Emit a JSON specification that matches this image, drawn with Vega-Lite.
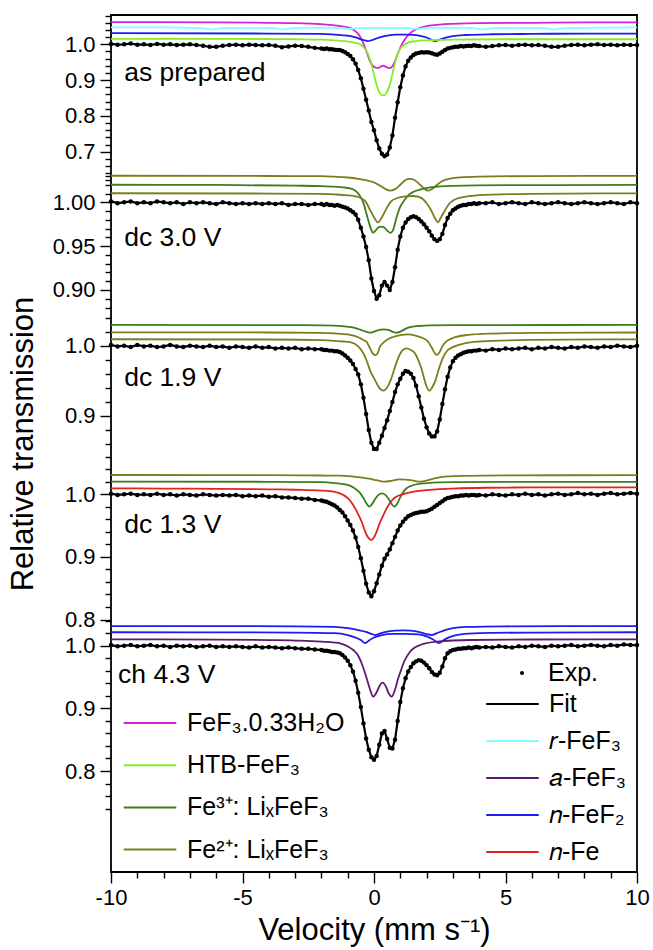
{
"$schema": "https://vega.github.io/schema/vega-lite/v6.json",
"autosize": {"type": "none"},
"width": 526, "height": 857,
"padding": {"left": 111, "top": 15, "right": 16, "bottom": 78},
"background": "white",
"config": {
 "font": "Liberation Sans",
 "view": {"stroke": "black", "strokeWidth": 1.8},
 "axis": {"grid": false, "domain": false, "labelFont": "Liberation Sans", "labelFontSize": 22, "labelColor": "black", "labelFlush": false, "labelOverlap": false, "tickColor": "black", "tickWidth": 1.4, "titleFont": "Liberation Sans", "titleFontSize": 31, "titleFontWeight": "normal", "titleColor": "black"},
 "legend": {"labelFont": "Liberation Sans", "labelFontSize": 25, "labelColor": "black", "labelLimit": 400}
},
"datasets": {
 "e1": [{"v":-10,"t":1.001},{"v":-9.75,"t":0.999},{"v":-9.5,"t":1},{"v":-9.25,"t":1.002},{"v":-9,"t":0.999},{"v":-8.75,"t":1},{"v":-8.5,"t":0.998},{"v":-8.25,"t":1.001},{"v":-8,"t":0.999},{"v":-7.75,"t":1},{"v":-7.5,"t":0.998},{"v":-7.25,"t":0.999},{"v":-7,"t":1},{"v":-6.75,"t":0.998},{"v":-6.5,"t":0.996},{"v":-6.25,"t":0.993},{"v":-6,"t":0.993},{"v":-5.75,"t":0.996},{"v":-5.5,"t":0.998},{"v":-5.25,"t":0.999},{"v":-5,"t":0.997},{"v":-4.75,"t":0.999},{"v":-4.5,"t":0.998},{"v":-4.25,"t":0.997},{"v":-4,"t":0.998},{"v":-3.75,"t":0.996},{"v":-3.5,"t":0.992},{"v":-3.25,"t":0.994},{"v":-3,"t":0.996},{"v":-2.75,"t":0.995},{"v":-2.5,"t":0.993},{"v":-2.25,"t":0.99},
  {"v":-2,"t":0.988},{"v":-1.9,"t":0.987},{"v":-1.8,"t":0.988},{"v":-1.7,"t":0.986},{"v":-1.6,"t":0.986},{"v":-1.5,"t":0.985},{"v":-1.4,"t":0.984},{"v":-1.3,"t":0.984},{"v":-1.2,"t":0.981},{"v":-1.1,"t":0.978},{"v":-1,"t":0.973},{"v":-0.9,"t":0.967},{"v":-0.8,"t":0.958},{"v":-0.7,"t":0.946},{"v":-0.6,"t":0.928},{"v":-0.5,"t":0.905},{"v":-0.4,"t":0.876},{"v":-0.3,"t":0.845},{"v":-0.2,"t":0.815},{"v":-0.1,"t":0.783},{"v":0,"t":0.76},{"v":0.1,"t":0.732},{"v":0.2,"t":0.709},{"v":0.3,"t":0.694},{"v":0.4,"t":0.687},{"v":0.5,"t":0.692},{"v":0.6,"t":0.712},{"v":0.7,"t":0.745},{"v":0.8,"t":0.795},{"v":0.9,"t":0.838},{"v":1,"t":0.88},{"v":1.1,"t":0.913},{"v":1.2,"t":0.938},{"v":1.3,"t":0.954},{"v":1.4,"t":0.963},{"v":1.5,"t":0.97},{"v":1.6,"t":0.974},{"v":1.7,"t":0.976},{"v":1.8,"t":0.978},{"v":1.9,"t":0.977},{"v":2,"t":0.978},{"v":2.1,"t":0.977},{"v":2.2,"t":0.975},{"v":2.3,"t":0.972},{"v":2.4,"t":0.971},{"v":2.5,"t":0.974},{"v":2.6,"t":0.979},{"v":2.7,"t":0.984},{"v":2.8,"t":0.988},{"v":2.9,"t":0.99},{"v":3,"t":0.992},{"v":3.1,"t":0.993},{"v":3.2,"t":0.993},{"v":3.3,"t":0.995},{"v":3.4,"t":0.994},{"v":3.5,"t":0.995},{"v":3.6,"t":0.996},{"v":3.7,"t":0.995},{"v":3.8,"t":0.997},{"v":3.9,"t":0.996},{"v":4,"t":0.995},
  {"v":4.25,"t":0.993},{"v":4.5,"t":0.995},{"v":4.75,"t":0.997},{"v":5,"t":0.998},{"v":5.25,"t":0.996},{"v":5.5,"t":0.998},{"v":5.75,"t":0.999},{"v":6,"t":0.997},{"v":6.25,"t":0.998},{"v":6.5,"t":0.996},{"v":6.75,"t":0.993},{"v":7,"t":0.993},{"v":7.25,"t":0.996},{"v":7.5,"t":0.998},{"v":7.75,"t":0.999},{"v":8,"t":0.997},{"v":8.25,"t":0.999},{"v":8.5,"t":1},{"v":8.75,"t":0.998},{"v":9,"t":0.999},{"v":9.25,"t":0.997},{"v":9.5,"t":0.999},{"v":9.75,"t":0.998},{"v":10,"t":0.998}],
 "m1": [{"v":-10,"t":1.062},{"v":-6,"t":1.061},{"v":-4,"t":1.06},{"v":-3,"t":1.059},{"v":-2,"t":1.056},{"v":-1.5,"t":1.053},{"v":-1.2,"t":1.05},{"v":-1,"t":1.047},{"v":-0.8,"t":1.041},{"v":-0.6,"t":1.029},{"v":-0.5,"t":1.018},{"v":-0.4,"t":1.002},{"v":-0.3,"t":0.983},{"v":-0.2,"t":0.962},{"v":-0.1,"t":0.945},{"v":0,"t":0.937},{"v":0.1,"t":0.934},{"v":0.2,"t":0.935},{"v":0.3,"t":0.939},{"v":0.36,"t":0.94},{"v":0.45,"t":0.937},{"v":0.55,"t":0.934},{"v":0.65,"t":0.935},{"v":0.75,"t":0.945},{"v":0.85,"t":0.963},{"v":0.95,"t":0.982},{"v":1.05,"t":0.998},{"v":1.15,"t":1.011},{"v":1.3,"t":1.026},{"v":1.5,"t":1.038},{"v":1.75,"t":1.046},{"v":2,"t":1.051},{"v":2.5,"t":1.055},{"v":3,"t":1.057},{"v":4,"t":1.059},{"v":6,"t":1.06},{"v":8,"t":1.061},{"v":10,"t":1.061}],
 "c1": [{"v":-10,"t":1.047},{"v":-8,"t":1.047},{"v":-7,"t":1.046},{"v":-6.5,"t":1.045},{"v":-6.12,"t":1.041},{"v":-5.8,"t":1.045},{"v":-5,"t":1.046},{"v":-4,"t":1.046},{"v":-3.8,"t":1.045},{"v":-3.46,"t":1.041},{"v":-3.1,"t":1.045},{"v":-2.5,"t":1.046},{"v":-1.5,"t":1.046},{"v":-1.2,"t":1.045},{"v":-0.95,"t":1.043},{"v":-0.7,"t":1.045},{"v":0,"t":1.046},{"v":1.3,"t":1.045},{"v":1.6,"t":1.043},{"v":1.9,"t":1.045},{"v":3,"t":1.046},{"v":3.8,"t":1.045},{"v":4.14,"t":1.041},{"v":4.5,"t":1.045},{"v":5.5,"t":1.046},{"v":6.5,"t":1.045},{"v":6.88,"t":1.041},{"v":7.2,"t":1.045},{"v":8,"t":1.046},{"v":10,"t":1.047}],
 "b1": [{"v":-10,"t":1.031},{"v":-4,"t":1.03},{"v":-2,"t":1.029},{"v":-1.5,"t":1.027},{"v":-1,"t":1.024},{"v":-0.7,"t":1.019},{"v":-0.5,"t":1.014},{"v":-0.35,"t":1.011},{"v":-0.23,"t":1.009},{"v":-0.1,"t":1.011},{"v":0.05,"t":1.015},{"v":0.25,"t":1.02},{"v":0.5,"t":1.024},{"v":0.8,"t":1.027},{"v":1.2,"t":1.027},{"v":1.5,"t":1.026},{"v":1.8,"t":1.023},{"v":2,"t":1.019},{"v":2.15,"t":1.014},{"v":2.32,"t":1.009},{"v":2.5,"t":1.013},{"v":2.7,"t":1.018},{"v":3,"t":1.023},{"v":3.5,"t":1.026},{"v":4.5,"t":1.028},{"v":6,"t":1.029},{"v":8,"t":1.03},{"v":10,"t":1.03}],
 "g1": [{"v":-10,"t":1.015},{"v":-5,"t":1.015},{"v":-3,"t":1.014},{"v":-2,"t":1.013},{"v":-1.5,"t":1.011},{"v":-1,"t":1.008},{"v":-0.7,"t":1.004},{"v":-0.5,"t":0.999},{"v":-0.35,"t":0.988},{"v":-0.2,"t":0.968},{"v":-0.1,"t":0.945},{"v":0,"t":0.915},{"v":0.1,"t":0.886},{"v":0.2,"t":0.866},{"v":0.3,"t":0.858},{"v":0.4,"t":0.858},{"v":0.5,"t":0.868},{"v":0.6,"t":0.886},{"v":0.7,"t":0.917},{"v":0.8,"t":0.948},{"v":0.9,"t":0.972},{"v":1,"t":0.988},{"v":1.15,"t":0.999},{"v":1.35,"t":1.006},{"v":1.6,"t":1.009},{"v":2,"t":1.011},{"v":3,"t":1.013},{"v":5,"t":1.014},{"v":10,"t":1.014}],
 "e2": [{"v":-10,"t":1.001},{"v":-9.75,"t":0.999},{"v":-9.5,"t":1},{"v":-9.25,"t":1.001},{"v":-9,"t":0.999},{"v":-8.75,"t":1},{"v":-8.5,"t":0.999},{"v":-8.25,"t":1.001},{"v":-8,"t":1},{"v":-7.75,"t":0.999},{"v":-7.5,"t":1},{"v":-7.25,"t":0.998},{"v":-7,"t":1},{"v":-6.75,"t":0.999},{"v":-6.5,"t":1},{"v":-6.25,"t":0.999},{"v":-6,"t":0.998},{"v":-5.75,"t":1},{"v":-5.5,"t":0.999},{"v":-5.25,"t":0.998},{"v":-5,"t":0.999},{"v":-4.75,"t":0.998},{"v":-4.5,"t":0.999},{"v":-4.25,"t":0.998},{"v":-4,"t":0.999},{"v":-3.75,"t":0.998},{"v":-3.5,"t":0.999},{"v":-3.25,"t":0.997},{"v":-3,"t":0.998},{"v":-2.75,"t":0.998},{"v":-2.5,"t":0.997},{"v":-2.25,"t":0.998},
  {"v":-2,"t":0.998},{"v":-1.9,"t":0.997},{"v":-1.8,"t":0.998},{"v":-1.7,"t":0.997},{"v":-1.6,"t":0.997},{"v":-1.5,"t":0.996},{"v":-1.4,"t":0.997},{"v":-1.3,"t":0.996},{"v":-1.2,"t":0.995},{"v":-1.1,"t":0.994},{"v":-1,"t":0.993},{"v":-0.9,"t":0.991},{"v":-0.8,"t":0.989},{"v":-0.7,"t":0.986},{"v":-0.6,"t":0.98},{"v":-0.5,"t":0.971},{"v":-0.4,"t":0.961},{"v":-0.3,"t":0.949},{"v":-0.2,"t":0.934},{"v":-0.1,"t":0.913},{"v":0,"t":0.899},{"v":0.1,"t":0.89},{"v":0.2,"t":0.894},{"v":0.3,"t":0.905},{"v":0.4,"t":0.909},{"v":0.5,"t":0.905},{"v":0.6,"t":0.9},{"v":0.7,"t":0.909},{"v":0.8,"t":0.926},{"v":0.9,"t":0.946},{"v":1,"t":0.961},{"v":1.1,"t":0.971},{"v":1.2,"t":0.977},{"v":1.3,"t":0.981},{"v":1.4,"t":0.983},{"v":1.5,"t":0.984},{"v":1.6,"t":0.983},{"v":1.7,"t":0.981},{"v":1.8,"t":0.978},{"v":1.9,"t":0.975},{"v":2,"t":0.971},{"v":2.1,"t":0.967},{"v":2.2,"t":0.962},{"v":2.3,"t":0.958},{"v":2.4,"t":0.956},{"v":2.5,"t":0.958},{"v":2.6,"t":0.964},{"v":2.7,"t":0.974},{"v":2.8,"t":0.982},{"v":2.9,"t":0.987},{"v":3,"t":0.991},{"v":3.1,"t":0.993},{"v":3.2,"t":0.995},{"v":3.3,"t":0.996},{"v":3.4,"t":0.997},{"v":3.5,"t":0.997},{"v":3.6,"t":0.998},{"v":3.7,"t":0.998},{"v":3.8,"t":0.999},{"v":3.9,"t":0.998},{"v":4,"t":0.999},
  {"v":4.25,"t":0.999},{"v":4.5,"t":1},{"v":4.75,"t":0.998},{"v":5,"t":0.999},{"v":5.25,"t":1},{"v":5.5,"t":0.999},{"v":5.75,"t":0.998},{"v":6,"t":1},{"v":6.25,"t":0.999},{"v":6.5,"t":0.998},{"v":6.75,"t":0.999},{"v":7,"t":1},{"v":7.25,"t":0.999},{"v":7.5,"t":0.998},{"v":7.75,"t":0.999},{"v":8,"t":1},{"v":8.25,"t":0.999},{"v":8.5,"t":0.998},{"v":8.75,"t":0.999},{"v":9,"t":1},{"v":9.25,"t":0.999},{"v":9.5,"t":0.998},{"v":9.75,"t":1},{"v":10,"t":0.999}],
 "o2a": [{"v":-10,"t":1.0303},{"v":-4,"t":1.03},{"v":-2,"t":1.0298},{"v":-1.5,"t":1.0292},{"v":-1,"t":1.0283},{"v":-0.6,"t":1.0268},{"v":-0.3,"t":1.0252},{"v":0,"t":1.0228},{"v":0.2,"t":1.0195},{"v":0.4,"t":1.0158},{"v":0.61,"t":1.0132},{"v":0.8,"t":1.015},{"v":1,"t":1.02},{"v":1.2,"t":1.0255},{"v":1.35,"t":1.0268},{"v":1.5,"t":1.026},{"v":1.7,"t":1.0215},{"v":1.9,"t":1.0158},{"v":2.05,"t":1.0132},{"v":2.2,"t":1.015},{"v":2.4,"t":1.02},{"v":2.6,"t":1.0242},{"v":2.9,"t":1.027},{"v":3.3,"t":1.0285},{"v":4,"t":1.0293},{"v":6,"t":1.0299},{"v":10,"t":1.0302}],
 "d2": [{"v":-10,"t":1.02},{"v":-6,"t":1.0198},{"v":-3,"t":1.019},{"v":-2,"t":1.0185},{"v":-1.5,"t":1.0178},{"v":-1,"t":1.0163},{"v":-0.75,"t":1.014},{"v":-0.55,"t":1.008},{"v":-0.4,"t":0.999},{"v":-0.25,"t":0.983},{"v":-0.12,"t":0.97},{"v":-0.04,"t":0.9655},{"v":0.05,"t":0.9675},{"v":0.15,"t":0.971},{"v":0.28,"t":0.9722},{"v":0.4,"t":0.971},{"v":0.52,"t":0.9672},{"v":0.63,"t":0.9653},{"v":0.72,"t":0.968},{"v":0.86,"t":0.983},{"v":1,"t":0.995},{"v":1.12,"t":1.001},{"v":1.3,"t":1.008},{"v":1.5,"t":1.012},{"v":1.8,"t":1.015},{"v":2.14,"t":1.017},{"v":3,"t":1.0187},{"v":5,"t":1.0195},{"v":10,"t":1.0198}],
 "o2b": [{"v":-10,"t":1.0103},{"v":-4,"t":1.01},{"v":-2,"t":1.0095},{"v":-1.5,"t":1.009},{"v":-1,"t":1.008},{"v":-0.7,"t":1.0068},{"v":-0.5,"t":1.005},{"v":-0.3,"t":1},{"v":-0.15,"t":0.9912},{"v":0,"t":0.983},{"v":0.15,"t":0.9772},{"v":0.3,"t":0.983},{"v":0.48,"t":0.9932},{"v":0.65,"t":1.001},{"v":0.86,"t":1.0046},{"v":1.2,"t":1.0068},{"v":1.5,"t":1.0072},{"v":1.8,"t":1.005},{"v":2,"t":0.9989},{"v":2.15,"t":0.992},{"v":2.3,"t":0.983},{"v":2.43,"t":0.9772},{"v":2.55,"t":0.983},{"v":2.7,"t":0.991},{"v":2.85,"t":0.998},{"v":3.04,"t":1.0026},{"v":3.4,"t":1.006},{"v":3.67,"t":1.0072},{"v":4.5,"t":1.0088},{"v":6,"t":1.0096},{"v":10,"t":1.0102}],
 "e3": [{"v":-10,"t":1.001},{"v":-9.75,"t":0.999},{"v":-9.5,"t":1},{"v":-9.25,"t":0.998},{"v":-9,"t":1.001},{"v":-8.75,"t":0.999},{"v":-8.5,"t":1},{"v":-8.25,"t":0.998},{"v":-8,"t":0.999},{"v":-7.75,"t":1.001},{"v":-7.5,"t":0.999},{"v":-7.25,"t":0.998},{"v":-7,"t":1},{"v":-6.75,"t":0.999},{"v":-6.5,"t":0.998},{"v":-6.25,"t":1},{"v":-6,"t":0.998},{"v":-5.75,"t":0.999},{"v":-5.5,"t":0.997},{"v":-5.25,"t":0.999},{"v":-5,"t":0.998},{"v":-4.75,"t":0.997},{"v":-4.5,"t":0.999},{"v":-4.25,"t":0.997},{"v":-4,"t":0.998},{"v":-3.75,"t":0.996},{"v":-3.5,"t":0.997},{"v":-3.25,"t":0.996},{"v":-3,"t":0.997},{"v":-2.75,"t":0.995},{"v":-2.5,"t":0.996},{"v":-2.25,"t":0.995},
  {"v":-2,"t":0.995},{"v":-1.9,"t":0.994},{"v":-1.8,"t":0.994},{"v":-1.7,"t":0.993},{"v":-1.6,"t":0.993},{"v":-1.5,"t":0.992},{"v":-1.4,"t":0.992},{"v":-1.3,"t":0.991},{"v":-1.2,"t":0.989},{"v":-1.1,"t":0.986},{"v":-1,"t":0.983},{"v":-0.9,"t":0.979},{"v":-0.8,"t":0.974},{"v":-0.7,"t":0.967},{"v":-0.6,"t":0.959},{"v":-0.5,"t":0.945},{"v":-0.4,"t":0.926},{"v":-0.3,"t":0.903},{"v":-0.2,"t":0.88},{"v":-0.1,"t":0.862},{"v":0,"t":0.853},{"v":0.1,"t":0.853},{"v":0.2,"t":0.862},{"v":0.3,"t":0.872},{"v":0.4,"t":0.883},{"v":0.5,"t":0.894},{"v":0.6,"t":0.907},{"v":0.7,"t":0.92},{"v":0.8,"t":0.934},{"v":0.9,"t":0.945},{"v":1,"t":0.953},{"v":1.1,"t":0.96},{"v":1.2,"t":0.964},{"v":1.3,"t":0.963},{"v":1.4,"t":0.96},{"v":1.5,"t":0.954},{"v":1.6,"t":0.943},{"v":1.7,"t":0.928},{"v":1.8,"t":0.912},{"v":1.9,"t":0.896},{"v":2,"t":0.884},{"v":2.1,"t":0.875},{"v":2.2,"t":0.871},{"v":2.3,"t":0.871},{"v":2.4,"t":0.878},{"v":2.5,"t":0.895},{"v":2.6,"t":0.917},{"v":2.7,"t":0.938},{"v":2.8,"t":0.956},{"v":2.9,"t":0.969},{"v":3,"t":0.978},{"v":3.1,"t":0.983},{"v":3.2,"t":0.986},{"v":3.3,"t":0.988},{"v":3.4,"t":0.99},{"v":3.5,"t":0.991},{"v":3.6,"t":0.992},{"v":3.7,"t":0.992},{"v":3.8,"t":0.993},{"v":3.9,"t":0.993},{"v":4,"t":0.994},
  {"v":4.25,"t":0.993},{"v":4.5,"t":0.995},{"v":4.75,"t":0.994},{"v":5,"t":0.996},{"v":5.25,"t":0.995},{"v":5.5,"t":0.996},{"v":5.75,"t":0.997},{"v":6,"t":0.995},{"v":6.25,"t":0.997},{"v":6.5,"t":0.996},{"v":6.75,"t":0.998},{"v":7,"t":0.997},{"v":7.25,"t":0.996},{"v":7.5,"t":0.998},{"v":7.75,"t":0.997},{"v":8,"t":0.999},{"v":8.25,"t":0.998},{"v":8.5,"t":0.997},{"v":8.75,"t":0.999},{"v":9,"t":0.998},{"v":9.25,"t":1},{"v":9.5,"t":0.999},{"v":9.75,"t":0.998},{"v":10,"t":1}],
 "d3": [{"v":-10,"t":1.0295},{"v":-4,"t":1.0293},{"v":-2,"t":1.029},{"v":-1.5,"t":1.0285},{"v":-1.03,"t":1.027},{"v":-0.7,"t":1.025},{"v":-0.5,"t":1.0225},{"v":-0.3,"t":1.02},{"v":-0.15,"t":1.0185},{"v":0,"t":1.02},{"v":0.2,"t":1.0225},{"v":0.36,"t":1.0233},{"v":0.55,"t":1.0225},{"v":0.7,"t":1.02},{"v":0.86,"t":1.0185},{"v":1,"t":1.02},{"v":1.2,"t":1.024},{"v":1.37,"t":1.0265},{"v":1.7,"t":1.028},{"v":2.14,"t":1.029},{"v":3,"t":1.0293},{"v":10,"t":1.0295}],
 "o3a": [{"v":-10,"t":1.019},{"v":-4,"t":1.0188},{"v":-2,"t":1.0183},{"v":-1.5,"t":1.0175},{"v":-1,"t":1.016},{"v":-0.6,"t":1.012},{"v":-0.4,"t":1.008},{"v":-0.29,"t":1.0057},{"v":-0.15,"t":0.9963},{"v":-0.05,"t":0.989},{"v":0.04,"t":0.9868},{"v":0.13,"t":0.989},{"v":0.23,"t":0.999},{"v":0.35,"t":1.004},{"v":0.48,"t":1.008},{"v":0.7,"t":1.012},{"v":1,"t":1.015},{"v":1.3,"t":1.016},{"v":1.6,"t":1.014},{"v":1.85,"t":1.011},{"v":2.05,"t":1.006},{"v":2.2,"t":0.997},{"v":2.3,"t":0.99},{"v":2.38,"t":0.9868},{"v":2.48,"t":0.99},{"v":2.6,"t":0.999},{"v":2.75,"t":1.006},{"v":3,"t":1.011},{"v":3.5,"t":1.015},{"v":4.5,"t":1.0172},{"v":6,"t":1.0182},{"v":10,"t":1.0188}],
 "o3b": [{"v":-10,"t":1.0092},{"v":-4,"t":1.0088},{"v":-2,"t":1.008},{"v":-1.5,"t":1.007},{"v":-1.2,"t":1.006},{"v":-0.87,"t":1.0048},{"v":-0.6,"t":0.999},{"v":-0.45,"t":0.992},{"v":-0.29,"t":0.9797},{"v":-0.15,"t":0.965},{"v":0.04,"t":0.951},{"v":0.2,"t":0.94},{"v":0.36,"t":0.936},{"v":0.55,"t":0.944},{"v":0.7,"t":0.958},{"v":0.8,"t":0.97},{"v":1,"t":0.989},{"v":1.1,"t":0.994},{"v":1.23,"t":0.9963},{"v":1.4,"t":0.994},{"v":1.56,"t":0.989},{"v":1.7,"t":0.978},{"v":1.82,"t":0.9654},{"v":1.93,"t":0.95},{"v":2,"t":0.942},{"v":2.1,"t":0.936},{"v":2.2,"t":0.94},{"v":2.32,"t":0.9488},{"v":2.45,"t":0.965},{"v":2.64,"t":0.9844},{"v":2.8,"t":0.9935},{"v":3.04,"t":0.9986},{"v":3.4,"t":1.003},{"v":3.67,"t":1.0048},{"v":4.5,"t":1.0068},{"v":6,"t":1.0082},{"v":10,"t":1.0091}],
 "e4": [{"v":-10,"t":1.001},{"v":-9.75,"t":0.999},{"v":-9.5,"t":1},{"v":-9.25,"t":1.001},{"v":-9,"t":0.999},{"v":-8.75,"t":1},{"v":-8.5,"t":0.999},{"v":-8.25,"t":1.001},{"v":-8,"t":0.999},{"v":-7.75,"t":1},{"v":-7.5,"t":0.998},{"v":-7.25,"t":1},{"v":-7,"t":0.999},{"v":-6.75,"t":0.998},{"v":-6.5,"t":1},{"v":-6.25,"t":0.999},{"v":-6,"t":0.998},{"v":-5.75,"t":0.999},{"v":-5.5,"t":0.998},{"v":-5.25,"t":0.999},{"v":-5,"t":0.997},{"v":-4.75,"t":0.998},{"v":-4.5,"t":0.997},{"v":-4.25,"t":0.998},{"v":-4,"t":0.996},{"v":-3.75,"t":0.997},{"v":-3.5,"t":0.995},{"v":-3.25,"t":0.995},{"v":-3,"t":0.994},{"v":-2.75,"t":0.993},{"v":-2.5,"t":0.993},{"v":-2.25,"t":0.991},
  {"v":-2,"t":0.99},{"v":-1.9,"t":0.989},{"v":-1.8,"t":0.988},{"v":-1.7,"t":0.986},{"v":-1.6,"t":0.984},{"v":-1.5,"t":0.982},{"v":-1.4,"t":0.979},{"v":-1.3,"t":0.975},{"v":-1.2,"t":0.971},{"v":-1.1,"t":0.965},{"v":-1,"t":0.958},{"v":-0.9,"t":0.951},{"v":-0.8,"t":0.942},{"v":-0.7,"t":0.931},{"v":-0.6,"t":0.916},{"v":-0.5,"t":0.898},{"v":-0.4,"t":0.878},{"v":-0.3,"t":0.857},{"v":-0.2,"t":0.843},{"v":-0.1,"t":0.837},{"v":0,"t":0.845},{"v":0.1,"t":0.858},{"v":0.2,"t":0.872},{"v":0.3,"t":0.886},{"v":0.4,"t":0.897},{"v":0.5,"t":0.904},{"v":0.6,"t":0.912},{"v":0.7,"t":0.922},{"v":0.8,"t":0.932},{"v":0.9,"t":0.942},{"v":1,"t":0.95},{"v":1.1,"t":0.956},{"v":1.2,"t":0.961},{"v":1.3,"t":0.965},{"v":1.4,"t":0.967},{"v":1.5,"t":0.969},{"v":1.6,"t":0.97},{"v":1.7,"t":0.971},{"v":1.8,"t":0.972},{"v":1.9,"t":0.972},{"v":2,"t":0.973},{"v":2.1,"t":0.975},{"v":2.2,"t":0.977},{"v":2.3,"t":0.98},{"v":2.4,"t":0.983},{"v":2.5,"t":0.986},{"v":2.6,"t":0.989},{"v":2.7,"t":0.992},{"v":2.8,"t":0.994},{"v":2.9,"t":0.995},{"v":3,"t":0.996},{"v":3.1,"t":0.997},{"v":3.2,"t":0.997},{"v":3.3,"t":0.998},{"v":3.4,"t":0.998},{"v":3.5,"t":0.999},{"v":3.6,"t":0.998},{"v":3.7,"t":0.999},{"v":3.8,"t":0.999},{"v":3.9,"t":0.998},{"v":4,"t":0.999},
  {"v":4.25,"t":0.998},{"v":4.5,"t":1},{"v":4.75,"t":0.999},{"v":5,"t":0.998},{"v":5.25,"t":1},{"v":5.5,"t":0.999},{"v":5.75,"t":1.001},{"v":6,"t":0.999},{"v":6.25,"t":1},{"v":6.5,"t":0.998},{"v":6.75,"t":1},{"v":7,"t":1.001},{"v":7.25,"t":0.999},{"v":7.5,"t":1},{"v":7.75,"t":1.002},{"v":8,"t":1},{"v":8.25,"t":1.001},{"v":8.5,"t":0.999},{"v":8.75,"t":1.001},{"v":9,"t":1.002},{"v":9.25,"t":1},{"v":9.5,"t":1.001},{"v":9.75,"t":1.002},{"v":10,"t":1.001}],
 "o4": [{"v":-10,"t":1.0308},{"v":-4,"t":1.0305},{"v":-2,"t":1.03},{"v":-1.3,"t":1.0297},{"v":-0.6,"t":1.0275},{"v":-0.2,"t":1.025},{"v":0.1,"t":1.0225},{"v":0.42,"t":1.0201},{"v":0.7,"t":1.022},{"v":0.95,"t":1.0238},{"v":1.2,"t":1.0236},{"v":1.4,"t":1.0225},{"v":1.6,"t":1.0208},{"v":1.75,"t":1.0201},{"v":1.95,"t":1.0215},{"v":2.3,"t":1.0256},{"v":2.8,"t":1.0285},{"v":3.5,"t":1.0295},{"v":5,"t":1.0302},{"v":10,"t":1.0306}],
 "d4": [{"v":-10,"t":1.0203},{"v":-4,"t":1.02},{"v":-2,"t":1.0195},{"v":-1.5,"t":1.018},{"v":-1,"t":1.015},{"v":-0.75,"t":1.01},{"v":-0.55,"t":1.003},{"v":-0.4,"t":0.994},{"v":-0.28,"t":0.985},{"v":-0.18,"t":0.9802},{"v":-0.08,"t":0.984},{"v":0.05,"t":0.993},{"v":0.18,"t":0.9995},{"v":0.3,"t":1.0016},{"v":0.42,"t":0.9995},{"v":0.55,"t":0.993},{"v":0.68,"t":0.984},{"v":0.78,"t":0.9802},{"v":0.88,"t":0.985},{"v":0.98,"t":0.9936},{"v":1.1,"t":1.003},{"v":1.24,"t":1.0096},{"v":1.45,"t":1.014},{"v":1.75,"t":1.017},{"v":2.2,"t":1.0185},{"v":3,"t":1.0193},{"v":5,"t":1.0198},{"v":10,"t":1.02}],
 "r4": [{"v":-10,"t":1.0096},{"v":-8,"t":1.0092},{"v":-6,"t":1.0088},{"v":-4,"t":1.008},{"v":-3,"t":1.0073},{"v":-2,"t":1.006},{"v":-1.5,"t":1.004},{"v":-1.29,"t":1.0016},{"v":-1,"t":0.994},{"v":-0.79,"t":0.983},{"v":-0.6,"t":0.968},{"v":-0.47,"t":0.9562},{"v":-0.35,"t":0.942},{"v":-0.28,"t":0.935},{"v":-0.18,"t":0.929},{"v":-0.11,"t":0.927},{"v":0,"t":0.931},{"v":0.1,"t":0.9403},{"v":0.2,"t":0.952},{"v":0.36,"t":0.967},{"v":0.5,"t":0.979},{"v":0.61,"t":0.9866},{"v":0.8,"t":0.995},{"v":1,"t":0.9989},{"v":1.5,"t":1.0042},{"v":2.39,"t":1.008},{"v":3,"t":1.0092},{"v":4.28,"t":1.0105},{"v":6,"t":1.011},{"v":8,"t":1.0112},{"v":10,"t":1.0112}],
 "e5": [{"v":-10,"t":1.001},{"v":-9.75,"t":0.999},{"v":-9.5,"t":1},{"v":-9.25,"t":1.001},{"v":-9,"t":0.999},{"v":-8.75,"t":1},{"v":-8.5,"t":1.001},{"v":-8.25,"t":0.999},{"v":-8,"t":1},{"v":-7.75,"t":0.998},{"v":-7.5,"t":1},{"v":-7.25,"t":0.999},{"v":-7,"t":1},{"v":-6.75,"t":0.998},{"v":-6.5,"t":0.999},{"v":-6.25,"t":1},{"v":-6,"t":0.998},{"v":-5.75,"t":0.999},{"v":-5.5,"t":0.998},{"v":-5.25,"t":0.999},{"v":-5,"t":0.998},{"v":-4.75,"t":0.997},{"v":-4.5,"t":0.999},{"v":-4.25,"t":0.997},{"v":-4,"t":0.998},{"v":-3.75,"t":0.997},{"v":-3.5,"t":0.996},{"v":-3.25,"t":0.997},{"v":-3,"t":0.996},{"v":-2.75,"t":0.995},{"v":-2.5,"t":0.995},{"v":-2.25,"t":0.994},
  {"v":-2,"t":0.993},{"v":-1.9,"t":0.992},{"v":-1.8,"t":0.992},{"v":-1.7,"t":0.991},{"v":-1.6,"t":0.99},{"v":-1.5,"t":0.99},{"v":-1.4,"t":0.989},{"v":-1.3,"t":0.988},{"v":-1.2,"t":0.985},{"v":-1.1,"t":0.981},{"v":-1,"t":0.976},{"v":-0.9,"t":0.969},{"v":-0.8,"t":0.959},{"v":-0.7,"t":0.944},{"v":-0.6,"t":0.925},{"v":-0.5,"t":0.902},{"v":-0.4,"t":0.876},{"v":-0.3,"t":0.852},{"v":-0.2,"t":0.834},{"v":-0.1,"t":0.822},{"v":0,"t":0.818},{"v":0.1,"t":0.824},{"v":0.2,"t":0.842},{"v":0.3,"t":0.86},{"v":0.4,"t":0.864},{"v":0.5,"t":0.851},{"v":0.6,"t":0.837},{"v":0.7,"t":0.836},{"v":0.8,"t":0.85},{"v":0.9,"t":0.88},{"v":1,"t":0.91},{"v":1.1,"t":0.932},{"v":1.2,"t":0.948},{"v":1.3,"t":0.959},{"v":1.4,"t":0.966},{"v":1.5,"t":0.972},{"v":1.6,"t":0.975},{"v":1.7,"t":0.977},{"v":1.8,"t":0.976},{"v":1.9,"t":0.973},{"v":2,"t":0.969},{"v":2.1,"t":0.964},{"v":2.2,"t":0.958},{"v":2.3,"t":0.954},{"v":2.4,"t":0.953},{"v":2.5,"t":0.957},{"v":2.6,"t":0.967},{"v":2.7,"t":0.98},{"v":2.8,"t":0.988},{"v":2.9,"t":0.991},{"v":3,"t":0.993},{"v":3.1,"t":0.994},{"v":3.2,"t":0.995},{"v":3.3,"t":0.995},{"v":3.4,"t":0.996},{"v":3.5,"t":0.996},{"v":3.6,"t":0.997},{"v":3.7,"t":0.996},{"v":3.8,"t":0.997},{"v":3.9,"t":0.998},{"v":4,"t":0.997},
  {"v":4.25,"t":0.998},{"v":4.5,"t":0.997},{"v":4.75,"t":0.999},{"v":5,"t":0.998},{"v":5.25,"t":0.997},{"v":5.5,"t":0.999},{"v":5.75,"t":0.998},{"v":6,"t":1},{"v":6.25,"t":0.999},{"v":6.5,"t":0.998},{"v":6.75,"t":1},{"v":7,"t":0.999},{"v":7.25,"t":1},{"v":7.5,"t":1.001},{"v":7.75,"t":0.999},{"v":8,"t":1},{"v":8.25,"t":1.001},{"v":8.5,"t":1},{"v":8.75,"t":0.999},{"v":9,"t":1.001},{"v":9.25,"t":1},{"v":9.5,"t":1.002},{"v":9.75,"t":1.001},{"v":10,"t":1.001}],
 "b5a": [{"v":-10,"t":1.0314},{"v":-3,"t":1.031},{"v":-1.5,"t":1.03},{"v":-1,"t":1.028},{"v":-0.6,"t":1.025},{"v":-0.3,"t":1.022},{"v":-0.1,"t":1.019},{"v":0.04,"t":1.017},{"v":0.2,"t":1.019},{"v":0.45,"t":1.022},{"v":0.8,"t":1.024},{"v":1.1,"t":1.0245},{"v":1.4,"t":1.024},{"v":1.7,"t":1.022},{"v":1.95,"t":1.019},{"v":2.19,"t":1.017},{"v":2.4,"t":1.02},{"v":2.7,"t":1.025},{"v":3,"t":1.028},{"v":3.5,"t":1.03},{"v":5,"t":1.031},{"v":10,"t":1.0314}],
 "b5b": [{"v":-10,"t":1.0215},{"v":-3,"t":1.021},{"v":-1.5,"t":1.02},{"v":-1,"t":1.017},{"v":-0.7,"t":1.013},{"v":-0.5,"t":1.009},{"v":-0.34,"t":1.004},{"v":-0.2,"t":1.008},{"v":0,"t":1.013},{"v":0.3,"t":1.017},{"v":0.7,"t":1.019},{"v":1.2,"t":1.019},{"v":1.7,"t":1.018},{"v":2,"t":1.015},{"v":2.25,"t":1.01},{"v":2.48,"t":1.004},{"v":2.65,"t":1.009},{"v":2.9,"t":1.014},{"v":3.3,"t":1.018},{"v":4,"t":1.02},{"v":6,"t":1.021},{"v":10,"t":1.0215}],
 "p5": [{"v":-10,"t":1.0102},{"v":-6,"t":1.0098},{"v":-4,"t":1.009},{"v":-2.8,"t":1.008},{"v":-2,"t":1.0064},{"v":-1.5,"t":1.005},{"v":-1.29,"t":1.0038},{"v":-1,"t":0.999},{"v":-0.79,"t":0.9931},{"v":-0.6,"t":0.984},{"v":-0.47,"t":0.972},{"v":-0.37,"t":0.96},{"v":-0.28,"t":0.948},{"v":-0.15,"t":0.93},{"v":-0.03,"t":0.9186},{"v":0.08,"t":0.924},{"v":0.2,"t":0.935},{"v":0.33,"t":0.941},{"v":0.45,"t":0.935},{"v":0.56,"t":0.924},{"v":0.67,"t":0.9186},{"v":0.8,"t":0.93},{"v":0.92,"t":0.948},{"v":1.02,"t":0.96},{"v":1.12,"t":0.972},{"v":1.25,"t":0.983},{"v":1.37,"t":0.9904},{"v":1.55,"t":0.997},{"v":1.76,"t":1.0011},{"v":2.4,"t":1.0064},{"v":3.67,"t":1.0091},{"v":6,"t":1.0099},{"v":10,"t":1.0102}]
},
"layer": [
 {"layer": [
  {"data": {"name": "m1"}, "mark": {"type": "line", "strokeWidth": 1.8, "interpolate": "monotone"},
   "encoding": {"x": {"field": "v", "type": "quantitative", "scale": {"domain": [-10, 10], "nice": false}, "axis": null},
    "y": {"field": "t", "type": "quantitative", "scale": {"domain": [-1.312, 1.0818], "nice": false, "zero": false}, "axis": null},
    "stroke": {"datum": "FeF₃.0.33H₂O", "scale": {"domain": ["FeF₃.0.33H₂O", "HTB-FeF₃", "Fe³⁺: LiₓFeF₃", "Fe²⁺: LiₓFeF₃"], "range": ["#d920d9", "#80f020", "#3d7d1d", "#7d7d1e"]},
     "legend": {"orient": "none", "legendX": 20.5, "legendY": 689.5, "title": null, "symbolType": "M-1.5,0H1.5", "symbolSize": 1225, "symbolStrokeWidth": 2, "labelOffset": 18.5, "rowPadding": 10.2, "padding": 0}}}},
  {"data": {"name": "c1"}, "mark": {"type": "line", "strokeWidth": 1.8, "interpolate": "monotone"},
   "encoding": {"x": {"field": "v", "type": "quantitative", "scale": {"domain": [-10, 10], "nice": false}, "axis": null},
    "y": {"field": "t", "type": "quantitative", "scale": {"domain": [-1.312, 1.0818], "nice": false, "zero": false}, "axis": null},
    "color": {"datum": "𝑟-FeF₃", "scale": {"domain": ["Fit", "𝑟-FeF₃", "𝑎-FeF₃", "𝑛-FeF₂", "𝑛-Fe"], "range": ["#000000", "#7fffff", "#5a1a6e", "#1c1cf0", "#e02424"]},
     "legend": {"orient": "none", "legendX": 383, "legendY": 670.5, "title": null, "symbolType": "M-1.5,0H1.5", "symbolSize": 1225, "symbolStrokeWidth": 2, "labelOffset": 18, "rowPadding": 5, "padding": 0}}}},
  {"data": {"name": "b1"}, "mark": {"type": "line", "strokeWidth": 1.8, "interpolate": "monotone"},
   "encoding": {"x": {"field": "v", "type": "quantitative", "scale": {"domain": [-10, 10], "nice": false}, "axis": null},
    "y": {"field": "t", "type": "quantitative", "scale": {"domain": [-1.312, 1.0818], "nice": false, "zero": false}, "axis": null},
    "color": {"datum": "𝑛-FeF₂", "scale": {"domain": ["Fit", "𝑟-FeF₃", "𝑎-FeF₃", "𝑛-FeF₂", "𝑛-Fe"], "range": ["#000000", "#7fffff", "#5a1a6e", "#1c1cf0", "#e02424"]}}}},
  {"data": {"name": "g1"}, "mark": {"type": "line", "strokeWidth": 1.8, "interpolate": "monotone"},
   "encoding": {"x": {"field": "v", "type": "quantitative", "scale": {"domain": [-10, 10], "nice": false}, "axis": null},
    "y": {"field": "t", "type": "quantitative", "scale": {"domain": [-1.312, 1.0818], "nice": false, "zero": false}, "axis": null},
    "stroke": {"datum": "HTB-FeF₃", "scale": {"domain": ["FeF₃.0.33H₂O", "HTB-FeF₃", "Fe³⁺: LiₓFeF₃", "Fe²⁺: LiₓFeF₃"], "range": ["#d920d9", "#80f020", "#3d7d1d", "#7d7d1e"]}}}},
  {"data": {"name": "e1"}, "mark": {"type": "line", "strokeWidth": 2.2},
   "encoding": {"x": {"field": "v", "type": "quantitative", "scale": {"domain": [-10, 10], "nice": false}, "axis": null},
    "y": {"field": "t", "type": "quantitative", "scale": {"domain": [-1.312, 1.0818], "nice": false, "zero": false}, "axis": {"orient": "left", "values": [0.7, 0.8, 0.9, 1.0], "format": ".1f", "tickSize": 11, "labelPadding": 5, "title": null}},
    "color": {"datum": "Fit", "scale": {"domain": ["Fit", "𝑟-FeF₃", "𝑎-FeF₃", "𝑛-FeF₂", "𝑛-Fe"], "range": ["#000000", "#7fffff", "#5a1a6e", "#1c1cf0", "#e02424"]}}}},
  {"data": {"name": "e1"}, "mark": {"type": "point", "filled": true, "size": 20, "opacity": 1, "color": "black"},
   "encoding": {"x": {"field": "v", "type": "quantitative", "scale": {"domain": [-10, 10], "nice": false}, "axis": null},
    "y": {"field": "t", "type": "quantitative", "scale": {"domain": [-1.312, 1.0818], "nice": false, "zero": false}, "axis": {"orient": "left", "values": [0.62, 0.64, 0.66, 0.68, 0.72, 0.74, 0.76, 0.78, 0.82, 0.84, 0.86, 0.88, 0.92, 0.94, 0.96, 0.98, 1.02, 1.04, 1.06, 1.08], "tickSize": 6, "labels": false, "title": null}},
    "shape": {"datum": "Exp.", "scale": {"domain": ["Exp."], "range": ["circle"]},
     "legend": {"orient": "none", "legendX": 398.5, "legendY": 645.5, "title": null, "symbolSize": 16, "symbolFillColor": "black", "symbolStrokeWidth": 0, "labelOffset": 13.5, "padding": 0}}}},
  {"data": {"values": [{}]}, "mark": {"type": "text", "align": "left", "baseline": "middle", "fontSize": 26.5, "font": "Liberation Sans", "color": "black"},
   "encoding": {"x": {"datum": -9.5, "type": "quantitative", "scale": {"domain": [-10, 10], "nice": false}, "axis": null},
    "y": {"datum": 0.92, "type": "quantitative", "scale": {"domain": [-1.312, 1.0818], "nice": false, "zero": false}, "axis": null},
    "text": {"value": "as prepared"}}}
 ], "resolve": {"axis": {"y": "independent"}}},
 {"layer": [
  {"data": {"name": "o2a"}, "mark": {"type": "line", "strokeWidth": 1.8, "interpolate": "monotone"},
   "encoding": {"x": {"field": "v", "type": "quantitative", "scale": {"domain": [-10, 10], "nice": false}, "axis": null},
    "y": {"field": "t", "type": "quantitative", "scale": {"domain": [0.23637, 1.21357], "nice": false, "zero": false}, "axis": null},
    "stroke": {"datum": "Fe²⁺: LiₓFeF₃", "scale": {"domain": ["FeF₃.0.33H₂O", "HTB-FeF₃", "Fe³⁺: LiₓFeF₃", "Fe²⁺: LiₓFeF₃"], "range": ["#d920d9", "#80f020", "#3d7d1d", "#7d7d1e"]}}}},
  {"data": {"name": "d2"}, "mark": {"type": "line", "strokeWidth": 1.8, "interpolate": "monotone"},
   "encoding": {"x": {"field": "v", "type": "quantitative", "scale": {"domain": [-10, 10], "nice": false}, "axis": null},
    "y": {"field": "t", "type": "quantitative", "scale": {"domain": [0.23637, 1.21357], "nice": false, "zero": false}, "axis": null},
    "stroke": {"datum": "Fe³⁺: LiₓFeF₃", "scale": {"domain": ["FeF₃.0.33H₂O", "HTB-FeF₃", "Fe³⁺: LiₓFeF₃", "Fe²⁺: LiₓFeF₃"], "range": ["#d920d9", "#80f020", "#3d7d1d", "#7d7d1e"]}}}},
  {"data": {"name": "o2b"}, "mark": {"type": "line", "strokeWidth": 1.8, "interpolate": "monotone"},
   "encoding": {"x": {"field": "v", "type": "quantitative", "scale": {"domain": [-10, 10], "nice": false}, "axis": null},
    "y": {"field": "t", "type": "quantitative", "scale": {"domain": [0.23637, 1.21357], "nice": false, "zero": false}, "axis": null},
    "stroke": {"datum": "Fe²⁺: LiₓFeF₃", "scale": {"domain": ["FeF₃.0.33H₂O", "HTB-FeF₃", "Fe³⁺: LiₓFeF₃", "Fe²⁺: LiₓFeF₃"], "range": ["#d920d9", "#80f020", "#3d7d1d", "#7d7d1e"]}}}},
  {"data": {"name": "e2"}, "mark": {"type": "line", "strokeWidth": 2.2},
   "encoding": {"x": {"field": "v", "type": "quantitative", "scale": {"domain": [-10, 10], "nice": false}, "axis": null},
    "y": {"field": "t", "type": "quantitative", "scale": {"domain": [0.23637, 1.21357], "nice": false, "zero": false}, "axis": {"orient": "left", "values": [0.9, 0.95, 1.0], "format": ".2f", "tickSize": 11, "labelPadding": 5, "title": null}},
    "color": {"datum": "Fit", "scale": {"domain": ["Fit", "𝑟-FeF₃", "𝑎-FeF₃", "𝑛-FeF₂", "𝑛-Fe"], "range": ["#000000", "#7fffff", "#5a1a6e", "#1c1cf0", "#e02424"]}}}},
  {"data": {"name": "e2"}, "mark": {"type": "point", "filled": true, "size": 20, "opacity": 1, "color": "black"},
   "encoding": {"x": {"field": "v", "type": "quantitative", "scale": {"domain": [-10, 10], "nice": false}, "axis": null},
    "y": {"field": "t", "type": "quantitative", "scale": {"domain": [0.23637, 1.21357], "nice": false, "zero": false}, "axis": {"orient": "left", "values": [0.88, 0.89, 0.91, 0.92, 0.93, 0.94, 0.96, 0.97, 0.98, 0.99, 1.01, 1.02, 1.03], "tickSize": 6, "labels": false, "title": null}},
    "shape": {"datum": "Exp.", "scale": {"domain": ["Exp."], "range": ["circle"]}}}},
  {"data": {"values": [{}]}, "mark": {"type": "text", "align": "left", "baseline": "middle", "fontSize": 26.5, "font": "Liberation Sans", "color": "black"},
   "encoding": {"x": {"datum": -9.5, "type": "quantitative", "scale": {"domain": [-10, 10], "nice": false}, "axis": null},
    "y": {"datum": 0.959, "type": "quantitative", "scale": {"domain": [0.23637, 1.21357], "nice": false, "zero": false}, "axis": null},
    "text": {"value": "dc 3.0 V"}}}
 ], "resolve": {"axis": {"y": "independent"}}},
 {"layer": [
  {"data": {"name": "d3"}, "mark": {"type": "line", "strokeWidth": 1.8, "interpolate": "monotone"},
   "encoding": {"x": {"field": "v", "type": "quantitative", "scale": {"domain": [-10, 10], "nice": false}, "axis": null},
    "y": {"field": "t", "type": "quantitative", "scale": {"domain": [0.25135, 1.47041], "nice": false, "zero": false}, "axis": null},
    "stroke": {"datum": "Fe³⁺: LiₓFeF₃", "scale": {"domain": ["FeF₃.0.33H₂O", "HTB-FeF₃", "Fe³⁺: LiₓFeF₃", "Fe²⁺: LiₓFeF₃"], "range": ["#d920d9", "#80f020", "#3d7d1d", "#7d7d1e"]}}}},
  {"data": {"name": "o3a"}, "mark": {"type": "line", "strokeWidth": 1.8, "interpolate": "monotone"},
   "encoding": {"x": {"field": "v", "type": "quantitative", "scale": {"domain": [-10, 10], "nice": false}, "axis": null},
    "y": {"field": "t", "type": "quantitative", "scale": {"domain": [0.25135, 1.47041], "nice": false, "zero": false}, "axis": null},
    "stroke": {"datum": "Fe²⁺: LiₓFeF₃", "scale": {"domain": ["FeF₃.0.33H₂O", "HTB-FeF₃", "Fe³⁺: LiₓFeF₃", "Fe²⁺: LiₓFeF₃"], "range": ["#d920d9", "#80f020", "#3d7d1d", "#7d7d1e"]}}}},
  {"data": {"name": "o3b"}, "mark": {"type": "line", "strokeWidth": 1.8, "interpolate": "monotone"},
   "encoding": {"x": {"field": "v", "type": "quantitative", "scale": {"domain": [-10, 10], "nice": false}, "axis": null},
    "y": {"field": "t", "type": "quantitative", "scale": {"domain": [0.25135, 1.47041], "nice": false, "zero": false}, "axis": null},
    "stroke": {"datum": "Fe²⁺: LiₓFeF₃", "scale": {"domain": ["FeF₃.0.33H₂O", "HTB-FeF₃", "Fe³⁺: LiₓFeF₃", "Fe²⁺: LiₓFeF₃"], "range": ["#d920d9", "#80f020", "#3d7d1d", "#7d7d1e"]}}}},
  {"data": {"name": "e3"}, "mark": {"type": "line", "strokeWidth": 2.2},
   "encoding": {"x": {"field": "v", "type": "quantitative", "scale": {"domain": [-10, 10], "nice": false}, "axis": null},
    "y": {"field": "t", "type": "quantitative", "scale": {"domain": [0.25135, 1.47041], "nice": false, "zero": false}, "axis": {"orient": "left", "values": [0.9, 1.0], "format": ".1f", "tickSize": 11, "labelPadding": 5, "title": "Relative transmission", "titlePadding": 25}},
    "color": {"datum": "Fit", "scale": {"domain": ["Fit", "𝑟-FeF₃", "𝑎-FeF₃", "𝑛-FeF₂", "𝑛-Fe"], "range": ["#000000", "#7fffff", "#5a1a6e", "#1c1cf0", "#e02424"]}}}},
  {"data": {"name": "e3"}, "mark": {"type": "point", "filled": true, "size": 20, "opacity": 1, "color": "black"},
   "encoding": {"x": {"field": "v", "type": "quantitative", "scale": {"domain": [-10, 10], "nice": false}, "axis": null},
    "y": {"field": "t", "type": "quantitative", "scale": {"domain": [0.25135, 1.47041], "nice": false, "zero": false}, "axis": {"orient": "left", "values": [0.86, 0.88, 0.92, 0.94, 0.96, 0.98, 1.02, 1.04], "tickSize": 6, "labels": false, "title": null}},
    "shape": {"datum": "Exp.", "scale": {"domain": ["Exp."], "range": ["circle"]}}}},
  {"data": {"values": [{}]}, "mark": {"type": "text", "align": "left", "baseline": "middle", "fontSize": 26.5, "font": "Liberation Sans", "color": "black"},
   "encoding": {"x": {"datum": -9.5, "type": "quantitative", "scale": {"domain": [-10, 10], "nice": false}, "axis": null},
    "y": {"datum": 0.9536, "type": "quantitative", "scale": {"domain": [0.25135, 1.47041], "nice": false, "zero": false}, "axis": null},
    "text": {"value": "dc 1.9 V"}}}
 ], "resolve": {"axis": {"y": "independent"}}},
 {"layer": [
  {"data": {"name": "o4"}, "mark": {"type": "line", "strokeWidth": 1.8, "interpolate": "monotone"},
   "encoding": {"x": {"field": "v", "type": "quantitative", "scale": {"domain": [-10, 10], "nice": false}, "axis": null},
    "y": {"field": "t", "type": "quantitative", "scale": {"domain": [0.39665, 1.76565], "nice": false, "zero": false}, "axis": null},
    "stroke": {"datum": "Fe²⁺: LiₓFeF₃", "scale": {"domain": ["FeF₃.0.33H₂O", "HTB-FeF₃", "Fe³⁺: LiₓFeF₃", "Fe²⁺: LiₓFeF₃"], "range": ["#d920d9", "#80f020", "#3d7d1d", "#7d7d1e"]}}}},
  {"data": {"name": "d4"}, "mark": {"type": "line", "strokeWidth": 1.8, "interpolate": "monotone"},
   "encoding": {"x": {"field": "v", "type": "quantitative", "scale": {"domain": [-10, 10], "nice": false}, "axis": null},
    "y": {"field": "t", "type": "quantitative", "scale": {"domain": [0.39665, 1.76565], "nice": false, "zero": false}, "axis": null},
    "stroke": {"datum": "Fe³⁺: LiₓFeF₃", "scale": {"domain": ["FeF₃.0.33H₂O", "HTB-FeF₃", "Fe³⁺: LiₓFeF₃", "Fe²⁺: LiₓFeF₃"], "range": ["#d920d9", "#80f020", "#3d7d1d", "#7d7d1e"]}}}},
  {"data": {"name": "r4"}, "mark": {"type": "line", "strokeWidth": 1.8, "interpolate": "monotone"},
   "encoding": {"x": {"field": "v", "type": "quantitative", "scale": {"domain": [-10, 10], "nice": false}, "axis": null},
    "y": {"field": "t", "type": "quantitative", "scale": {"domain": [0.39665, 1.76565], "nice": false, "zero": false}, "axis": null},
    "color": {"datum": "𝑛-Fe", "scale": {"domain": ["Fit", "𝑟-FeF₃", "𝑎-FeF₃", "𝑛-FeF₂", "𝑛-Fe"], "range": ["#000000", "#7fffff", "#5a1a6e", "#1c1cf0", "#e02424"]}}}},
  {"data": {"name": "e4"}, "mark": {"type": "line", "strokeWidth": 2.2},
   "encoding": {"x": {"field": "v", "type": "quantitative", "scale": {"domain": [-10, 10], "nice": false}, "axis": null},
    "y": {"field": "t", "type": "quantitative", "scale": {"domain": [0.39665, 1.76565], "nice": false, "zero": false}, "axis": {"orient": "left", "values": [0.8, 0.9, 1.0], "format": ".1f", "tickSize": 11, "labelPadding": 5, "title": null}},
    "color": {"datum": "Fit", "scale": {"domain": ["Fit", "𝑟-FeF₃", "𝑎-FeF₃", "𝑛-FeF₂", "𝑛-Fe"], "range": ["#000000", "#7fffff", "#5a1a6e", "#1c1cf0", "#e02424"]}}}},
  {"data": {"name": "e4"}, "mark": {"type": "point", "filled": true, "size": 20, "opacity": 1, "color": "black"},
   "encoding": {"x": {"field": "v", "type": "quantitative", "scale": {"domain": [-10, 10], "nice": false}, "axis": null},
    "y": {"field": "t", "type": "quantitative", "scale": {"domain": [0.39665, 1.76565], "nice": false, "zero": false}, "axis": {"orient": "left", "values": [0.82, 0.84, 0.86, 0.88, 0.92, 0.94, 0.96, 0.98, 1.02, 1.04, 1.06], "tickSize": 6, "labels": false, "title": null}},
    "shape": {"datum": "Exp.", "scale": {"domain": ["Exp."], "range": ["circle"]}}}},
  {"data": {"values": [{}]}, "mark": {"type": "text", "align": "left", "baseline": "middle", "fontSize": 26.5, "font": "Liberation Sans", "color": "black"},
   "encoding": {"x": {"datum": -9.5, "type": "quantitative", "scale": {"domain": [-10, 10], "nice": false}, "axis": null},
    "y": {"datum": 0.951, "type": "quantitative", "scale": {"domain": [0.39665, 1.76565], "nice": false, "zero": false}, "axis": null},
    "text": {"value": "dc 1.3 V"}}}
 ], "resolve": {"axis": {"y": "independent"}}},
 {"layer": [
  {"data": {"name": "b5a"}, "mark": {"type": "line", "strokeWidth": 1.8, "interpolate": "monotone"},
   "encoding": {"x": {"field": "v", "type": "quantitative", "scale": {"domain": [-10, 10], "nice": false}, "axis": null},
    "y": {"field": "t", "type": "quantitative", "scale": {"domain": [0.6388, 2.0067], "nice": false, "zero": false}, "axis": null},
    "color": {"datum": "𝑛-FeF₂", "scale": {"domain": ["Fit", "𝑟-FeF₃", "𝑎-FeF₃", "𝑛-FeF₂", "𝑛-Fe"], "range": ["#000000", "#7fffff", "#5a1a6e", "#1c1cf0", "#e02424"]}}}},
  {"data": {"name": "b5b"}, "mark": {"type": "line", "strokeWidth": 1.8, "interpolate": "monotone"},
   "encoding": {"x": {"field": "v", "type": "quantitative", "scale": {"domain": [-10, 10], "nice": false}, "axis": null},
    "y": {"field": "t", "type": "quantitative", "scale": {"domain": [0.6388, 2.0067], "nice": false, "zero": false}, "axis": null},
    "color": {"datum": "𝑛-FeF₂", "scale": {"domain": ["Fit", "𝑟-FeF₃", "𝑎-FeF₃", "𝑛-FeF₂", "𝑛-Fe"], "range": ["#000000", "#7fffff", "#5a1a6e", "#1c1cf0", "#e02424"]}}}},
  {"data": {"name": "p5"}, "mark": {"type": "line", "strokeWidth": 1.8, "interpolate": "monotone"},
   "encoding": {"x": {"field": "v", "type": "quantitative", "scale": {"domain": [-10, 10], "nice": false}, "axis": null},
    "y": {"field": "t", "type": "quantitative", "scale": {"domain": [0.6388, 2.0067], "nice": false, "zero": false}, "axis": null},
    "color": {"datum": "𝑎-FeF₃", "scale": {"domain": ["Fit", "𝑟-FeF₃", "𝑎-FeF₃", "𝑛-FeF₂", "𝑛-Fe"], "range": ["#000000", "#7fffff", "#5a1a6e", "#1c1cf0", "#e02424"]}}}},
  {"data": {"name": "e5"}, "mark": {"type": "line", "strokeWidth": 2.2},
   "encoding": {"x": {"field": "v", "type": "quantitative", "scale": {"domain": [-10, 10], "nice": false}, "axis": {"orient": "bottom", "values": [-10, -5, 0, 5, 10], "labelExpr": "'' + datum.value", "tickSize": 11, "labelPadding": 4, "title": "Velocity (mm s⁻¹)", "titlePadding": 7}},
    "y": {"field": "t", "type": "quantitative", "scale": {"domain": [0.6388, 2.0067], "nice": false, "zero": false}, "axis": {"orient": "left", "values": [0.8, 0.9, 1.0], "format": ".1f", "tickSize": 11, "labelPadding": 5, "title": null}},
    "color": {"datum": "Fit", "scale": {"domain": ["Fit", "𝑟-FeF₃", "𝑎-FeF₃", "𝑛-FeF₂", "𝑛-Fe"], "range": ["#000000", "#7fffff", "#5a1a6e", "#1c1cf0", "#e02424"]}}}},
  {"data": {"name": "e5"}, "mark": {"type": "point", "filled": true, "size": 20, "opacity": 1, "color": "black"},
   "encoding": {"x": {"field": "v", "type": "quantitative", "scale": {"domain": [-10, 10], "nice": false}, "axis": {"orient": "bottom", "values": [-9, -8, -7, -6, -4, -3, -2, -1, 1, 2, 3, 4, 6, 7, 8, 9], "tickSize": 6, "labels": false, "title": null}},
    "y": {"field": "t", "type": "quantitative", "scale": {"domain": [0.6388, 2.0067], "nice": false, "zero": false}, "axis": {"orient": "left", "values": [0.74, 0.76, 0.78, 0.82, 0.84, 0.86, 0.88, 0.92, 0.94, 0.96, 0.98, 1.02, 1.04], "tickSize": 6, "labels": false, "title": null}},
    "shape": {"datum": "Exp.", "scale": {"domain": ["Exp."], "range": ["circle"]}}}},
  {"data": {"values": [{}]}, "mark": {"type": "text", "align": "left", "baseline": "middle", "fontSize": 26.5, "font": "Liberation Sans", "color": "black"},
   "encoding": {"x": {"datum": -9.73, "type": "quantitative", "scale": {"domain": [-10, 10], "nice": false}, "axis": null},
    "y": {"datum": 0.953, "type": "quantitative", "scale": {"domain": [0.6388, 2.0067], "nice": false, "zero": false}, "axis": null},
    "text": {"value": "ch 4.3 V"}}}
 ], "resolve": {"axis": {"y": "independent", "x": "independent"}}}
],
"resolve": {"scale": {"y": "independent"}, "axis": {"y": "independent", "x": "independent"}}
}
